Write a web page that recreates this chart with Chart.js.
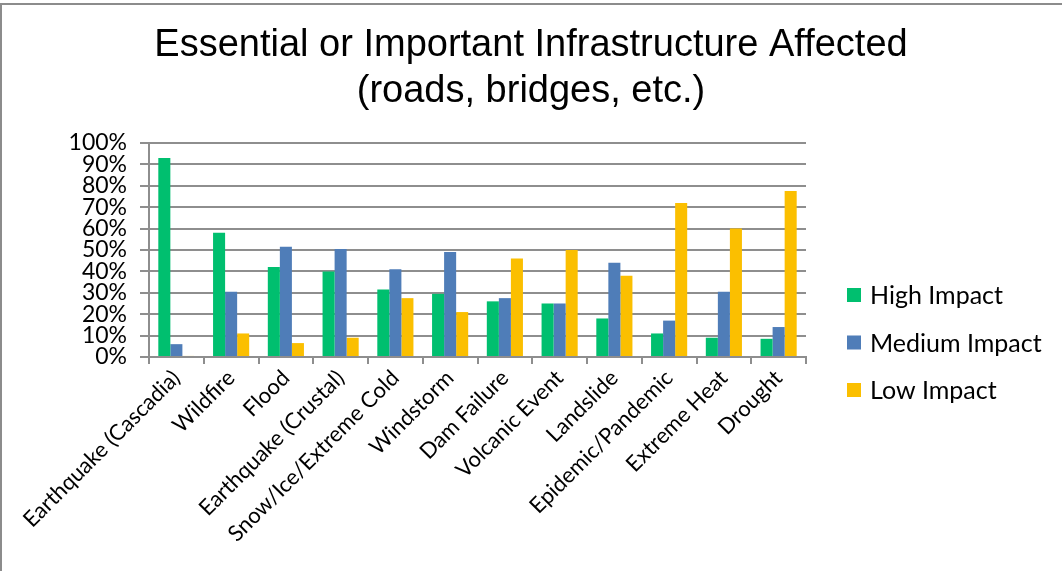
<!DOCTYPE html>
<html>
<head>
<meta charset="utf-8">
<title>Essential or Important Infrastructure Affected</title>
<script src="https://cdn.jsdelivr.net/npm/chart.js@4/dist/chart.umd.min.js"></script>
<style>
    html, body { margin: 0; padding: 0; background: #fff; }
    canvas { display: block; }
</style>
</head>
<body>
<canvas id="impactChart" width="1062" height="571"></canvas>
<script>
    // Hazards on the x axis
    const hazards = [
        'Earthquake (Cascadia)', 'Wildfire', 'Flood', 'Earthquake (Crustal)',
        'Snow/Ice/Extreme Cold', 'Windstorm', 'Dam Failure', 'Volcanic Event',
        'Landslide', 'Epidemic/Pandemic', 'Extreme Heat', 'Drought'
    ];

    // Share of responses per impact level (%)
    const highImpact   = [93, 58, 42, 40, 31.5, 29.5, 26, 25, 18, 11, 9, 8.5];
    const mediumImpact = [6, 30.5, 51.5, 50.5, 41, 49, 27.5, 25, 44, 17, 30.5, 14];
    const lowImpact    = [0.5, 11, 6.5, 9, 27.5, 21, 46, 50, 38, 72, 60, 77.5];

    // Percent ticks on the value axis
    const percentTicks = [0, 10, 20, 30, 40, 50, 60, 70, 80, 90, 100];

    const seriesNames = ['High Impact', 'Medium Impact', 'Low Impact'];
    const seriesColors = ['#00BF6F', '#4F7DB8', '#FBBF00'];

    const titleLines = ['Essential or Important Infrastructure Affected', '(roads, bridges, etc.)'];

    const gridGray = '#8e8e8e';
    const labelFont = 'Lato, "DejaVu Sans", sans-serif';

    // Thin frame along the top and left edge of the canvas
    const frame = {
        id: 'frame',
        beforeDraw(chart) {
            const ctx = chart.ctx;
            ctx.save();
            ctx.fillStyle = '#8c8c8c';
            ctx.fillRect(0, 3, chart.width, 2);
            ctx.fillRect(0, 3, 2, chart.height - 3);
            ctx.restore();
        }
    };

    // Legend drawn by hand in the space kept free on the right
    const sideLegend = {
        id: 'sideLegend',
        afterDraw(chart) {
            const ctx = chart.ctx;
            const x = chart.chartArea.right + 41;
            const y0 = 295;
            const step = 47.5;
            const box = 14;
            ctx.save();
            ctx.font = '25px ' + labelFont;
            ctx.textBaseline = 'middle';
            chart.data.datasets.forEach((ds, i) => {
                const y = y0 + i * step;
                ctx.fillStyle = ds.backgroundColor;
                ctx.fillRect(x, y - box / 2, box, box);
                ctx.fillStyle = '#000';
                ctx.fillText(ds.label, x + box + 9, y + 1);
            });
            ctx.restore();
        }
    };

    const ctx = document.getElementById('impactChart').getContext('2d');

    new Chart(ctx, {
        type: 'bar',
        data: {
            labels: hazards,
            datasets: [highImpact, mediumImpact, lowImpact].map((values, i) => ({
                label: seriesNames[i],
                data: values,
                backgroundColor: seriesColors[i],
                borderWidth: 0,
                categoryPercentage: 0.66,
                barPercentage: 1
            }))
        },
        options: {
            responsive: false,
            animation: false,
            layout: { padding: 0 },
            plugins: {
                legend: { display: false },
                tooltip: { enabled: false },
                title: {
                    display: true,
                    text: titleLines,
                    color: '#000',
                    font: { family: '"Liberation Sans", Arial, sans-serif', size: 38, weight: 'normal', lineHeight: 1.21 },
                    padding: { top: 23, bottom: 28 }
                }
            },
            scales: {
                x: {
                    grid: {
                        display: true,
                        drawOnChartArea: false,
                        color: gridGray,
                        lineWidth: 2,
                        tickLength: 7
                    },
                    border: { display: true, color: gridGray, width: 2 },
                    ticks: {
                        color: '#000',
                        font: { family: labelFont, size: 22 },
                        maxRotation: 45,
                        minRotation: 45,
                        autoSkip: false,
                        padding: 1
                    },
                    afterFit(scale) { scale.height = 214; }
                },
                y: {
                    min: 0,
                    max: 100,
                    grid: {
                        color: gridGray,
                        lineWidth: 2,
                        tickLength: 9
                    },
                    border: { display: true, color: gridGray, width: 2 },
                    ticks: {
                        autoSkip: false,
                        color: '#000',
                        font: { family: labelFont, size: 23 },
                        padding: 13,
                        callback: v => v + '%'
                    },
                    afterBuildTicks(scale) {
                        scale.ticks = percentTicks.map(v => ({ value: v }));
                    },
                    afterFit(scale) { scale.width = 149; }
                },
                // empty right-hand axis that keeps room for the legend
                legendSpace: {
                    type: 'linear',
                    position: 'right',
                    display: true,
                    grid: { display: false },
                    border: { display: false },
                    ticks: { display: false },
                    afterFit(scale) { scale.width = 256; }
                }
            }
        },
        plugins: [frame, sideLegend]
    });
</script>
</body>
</html>
